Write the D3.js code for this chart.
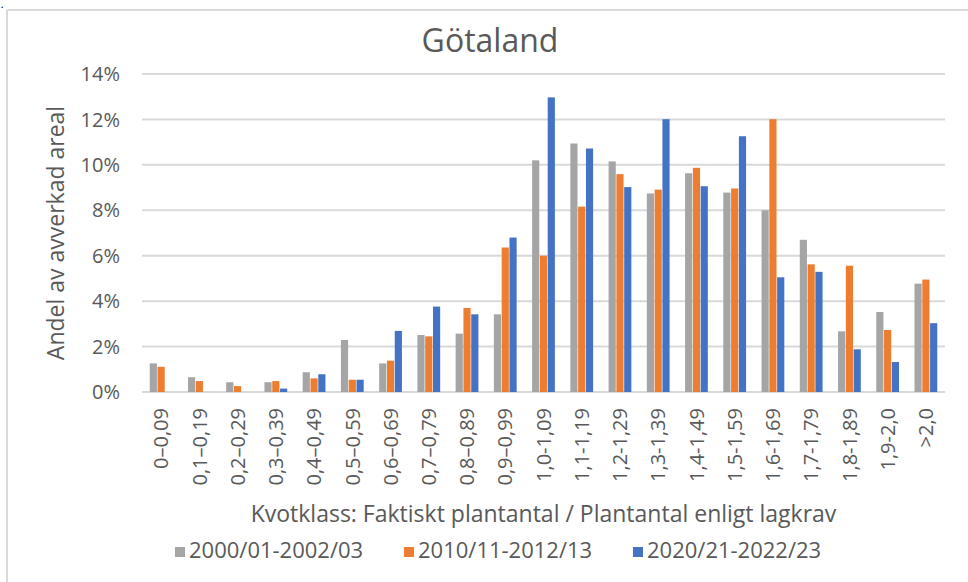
<!DOCTYPE html>
<html>
<head>
<meta charset="utf-8">
<script src="https://cdn.jsdelivr.net/npm/d3@7/dist/d3.min.js"></script>
<style>
  html, body { margin: 0; padding: 0; background: #fff; }
  svg { display: block; font-family: "Open Sans", "Noto Sans", sans-serif; }
</style>
</head>
<body>
<svg id="chart" width="968" height="582"></svg>
<script>
const categories = ["0–0,09","0,1–0,19","0,2–0,29","0,3–0,39","0,4–0,49","0,5–0,59","0,6–0,69","0,7–0,79","0,8–0,89","0,9–0,99","1,0-1,09","1,1-1,19","1,2-1,29","1,3-1,39","1,4-1,49","1,5-1,59","1,6-1,69","1,7-1,79","1,8-1,89","1,9-2,0",">2,0"];
const seriesNames = ["2000/01-2002/03","2010/11-2012/13","2020/21-2022/23"];
const seriesColors = ["#A5A5A5","#ED7D31","#4472C4"];
const values2000 = [1.26,0.65,0.43,0.43,0.87,2.29,1.26,2.51,2.57,3.42,10.2,10.94,10.15,8.74,9.63,8.78,8.0,6.70,2.67,3.52,4.77];
const values2010 = [1.11,0.48,0.26,0.48,0.60,0.54,1.38,2.45,3.70,6.36,6.0,8.16,9.59,8.91,9.87,8.96,12.01,5.62,5.56,2.73,4.95];
const values2020 = [0,0,0,0.15,0.78,0.54,2.69,3.76,3.42,6.80,12.97,10.72,9.02,12.01,9.06,11.26,5.05,5.29,1.88,1.32,3.03];
const yTicks = [0,2,4,6,8,10,12,14];
const title = "Götaland";
const yTitle = "Andel av avverkad areal";
const xTitle = "Kvotklass: Faktiskt plantantal / Plantantal enligt lagkrav";

const allSeries = [values2000, values2010, values2020];
const svg = d3.select("#chart");
const textColor = "#595959";
const gridColor = "#D9D9D9";

// frame
svg.append("line").attr("x1",7).attr("x2",968).attr("y1",10).attr("y2",10).attr("stroke",gridColor).attr("stroke-width",2);
svg.append("line").attr("x1",7).attr("x2",7).attr("y1",10).attr("y2",582).attr("stroke",gridColor).attr("stroke-width",2);
svg.append("text").attr("x",1).attr("y",8).attr("font-size",8).attr("font-weight","bold").attr("fill","#000").text(".");

const plot = {left:142, right:945, top:74, bottom:392};

const x0 = d3.scaleBand().domain(categories).range([plot.left, plot.right]).paddingInner(0.372).paddingOuter(0.186);
const x1 = d3.scaleBand().domain(d3.range(seriesNames.length)).range([0, x0.bandwidth()]).padding(0.08);
const y = d3.scaleLinear().domain([0,14]).range([plot.bottom, plot.top]);

// grid
svg.append("g").selectAll("line").data(yTicks).join("line")
  .attr("x1",plot.left).attr("x2",plot.right)
  .attr("y1",d=>y(d)).attr("y2",d=>y(d))
  .attr("stroke",gridColor).attr("stroke-width",2);

// y labels
svg.append("g").selectAll("text").data(yTicks).join("text")
  .attr("x",120).attr("y",d=>y(d)).attr("dy","0.36em")
  .attr("text-anchor","end").attr("font-size",20).attr("fill",textColor)
  .text(d=>d+"%");

// bars
const groups = svg.append("g").selectAll("g").data(categories).join("g")
  .attr("transform",d=>`translate(${x0(d)},0)`);
groups.selectAll("rect").data((d,i)=>allSeries.map((s,k)=>({k, v:s[i]}))).join("rect")
  .attr("x",d=>x1(d.k)).attr("width",x1.bandwidth())
  .attr("y",d=>y(d.v)).attr("height",d=>y(0)-y(d.v))
  .attr("fill",d=>seriesColors[d.k]);

// x labels
svg.append("g").selectAll("text").data(categories).join("text")
  .attr("transform",d=>`translate(${x0(d)+x0.bandwidth()/2},408) rotate(-90)`)
  .attr("dy","0.36em").attr("text-anchor","end").attr("font-size",20).attr("fill",textColor)
  .text(d=>d);

// title
svg.append("text").attr("x",490).attr("y",52).attr("text-anchor","middle")
  .attr("font-size",32).attr("fill",textColor).text(title);

// y title
svg.append("text").attr("transform","translate(64,233) rotate(-90)")
  .attr("text-anchor","middle").attr("font-size",23).attr("fill",textColor).text(yTitle);

// x title
svg.append("text").attr("x",(plot.left+plot.right)/2).attr("y",522).attr("text-anchor","middle")
  .attr("font-size",23).attr("fill",textColor).text(xTitle);

// legend
const legendX = [175, 404, 633];
const lg = svg.append("g").selectAll("g").data(seriesNames).join("g")
  .attr("transform",(d,i)=>`translate(${legendX[i]},0)`);
lg.append("rect").attr("x",0).attr("y",547).attr("width",10).attr("height",10).attr("fill",(d,i)=>seriesColors[i]);
lg.append("text").attr("x",14).attr("y",558).attr("font-size",22).attr("fill",textColor).text(d=>d);
</script>
</body>
</html>
